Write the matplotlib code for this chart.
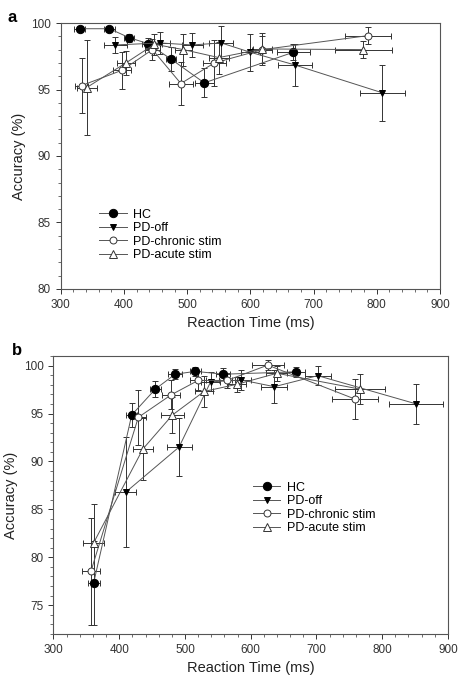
import matplotlib
matplotlib.use("Agg")
import matplotlib.pyplot as plt
from matplotlib.ticker import MultipleLocator

plt.rcParams['font.family'] = ['Liberation Sans', 'DejaVu Sans']

groups = ["HC", "PD-off", "PD-chronic stim", "PD-acute stim"]

# panel a
a_x = [
    [330, 377, 408, 438, 474, 527, 668],
    [386, 457, 508, 554, 600, 670, 809],
    [333, 397, 445, 490, 543, 619, 786],
    [341, 403, 448, 494, 550, 619, 779],
]
a_y = [
    [99.57, 99.57, 98.9, 98.45, 97.3, 95.5, 97.8],
    [98.35, 98.5, 98.35, 98.5, 97.8, 96.85, 94.75],
    [95.3, 96.45, 98.0, 95.45, 97.0, 98.0, 99.05],
    [95.15, 97.0, 98.4, 98.0, 97.4, 98.05, 98.0],
]
a_xerr = [
    [9, 9, 8, 10, 8, 15, 26],
    [18, 15, 17, 19, 15, 27, 36],
    [10, 14, 12, 19, 18, 16, 36],
    [16, 14, 12, 13, 16, 15, 45],
]
a_yerr = [
    [0.2, 0.2, 0.3, 0.4, 0.9, 1.1, 0.6],
    [0.6, 0.8, 0.9, 1.3, 1.4, 1.6, 2.1],
    [2.07, 1.4, 0.8, 1.6, 1.7, 1.0, 0.65],
    [3.55, 0.9, 0.8, 1.2, 1.2, 1.2, 0.65],
]

# panel b
b_x = [
    [361, 419, 455, 485, 516, 558, 669],
    [410, 491, 539, 586, 636, 702, 852],
    [357, 429, 479, 520, 564, 626, 759],
    [361, 436, 481, 529, 579, 640, 766],
]
b_y = [
    [77.3, 94.85, 97.55, 99.1, 99.4, 99.1, 99.35],
    [86.8, 91.5, 98.3, 98.5, 97.8, 98.95, 96.0],
    [78.55, 94.6, 96.95, 98.45, 98.45, 100.05, 96.5],
    [81.5, 91.3, 94.85, 97.3, 98.05, 99.2, 97.55],
]
b_xerr = [
    [9, 8, 8, 11, 8, 11, 14],
    [16, 19, 14, 14, 20, 20, 41],
    [13, 12, 14, 12, 12, 24, 35],
    [16, 15, 18, 14, 14, 16, 38],
]
b_yerr = [
    [4.4, 1.25, 0.8, 0.5, 0.5, 0.6, 0.5],
    [5.75, 3.0, 1.0, 1.0, 1.7, 1.0, 2.05],
    [5.6, 2.9, 1.5, 1.0, 0.8, 0.5, 2.1],
    [4.05, 3.2, 1.85, 1.65, 0.8, 0.8, 1.6],
]

styles = [
    dict(marker='o', mfc='black', mec='black', ms=6),
    dict(marker='v', mfc='black', mec='black', ms=4),
    dict(marker='o', mfc='white', mec='#333333', ms=5),
    dict(marker='^', mfc='white', mec='#333333', ms=5.5),
]


def draw_panel(ax, xs, ys, xerrs, yerrs, ylim, yticks):
    for i in range(4):
        ax.errorbar(xs[i], ys[i], xerr=xerrs[i], yerr=yerrs[i], fmt='none',
                    ecolor='#333333', elinewidth=0.7, capsize=2.5, capthick=0.7,
                    zorder=2)
        ax.plot(xs[i], ys[i], color='#555555', lw=0.7, mew=0.7, zorder=3,
                label=groups[i], **styles[i])
    ax.set_xlim(300, 900)
    ax.set_ylim(*ylim)
    ax.set_xticks(range(300, 901, 100))
    ax.set_yticks(yticks)
    ax.xaxis.set_minor_locator(MultipleLocator(20))
    ax.yaxis.set_minor_locator(MultipleLocator(1))
    ax.tick_params(which='both', direction='out', labelsize=8.5, colors='#333333',
                   top=False, right=False)
    ax.tick_params(which='major', length=3.5, width=0.7)
    ax.tick_params(which='minor', length=2, width=0.5)
    for s in ax.spines.values():
        s.set_linewidth(0.8)
        s.set_color('#555555')
    ax.set_xlabel('Reaction Time (ms)', fontsize=10.5, color='#222222')
    ax.set_ylabel('Accuracy (%)', fontsize=10.5, color='#222222')


fig = plt.figure(figsize=(4.68, 6.89), dpi=100)
ax1 = fig.add_axes([0.130, 0.5806, 0.810, 0.386])
ax2 = fig.add_axes([0.1143, 0.0798, 0.8427, 0.4035])

draw_panel(ax1, a_x, a_y, a_xerr, a_yerr, (80, 100), range(80, 101, 5))
draw_panel(ax2, b_x, b_y, b_xerr, b_yerr, (72, 101), range(75, 101, 5))

leg1 = ax1.legend(loc='upper left', bbox_to_anchor=(0.085, 0.325), frameon=False,
                  fontsize=9, handlelength=2.2, labelspacing=0.12,
                  handletextpad=0.5, borderpad=0)
leg2 = ax2.legend(loc='upper left', bbox_to_anchor=(0.49, 0.57), frameon=False,
                  fontsize=9, handlelength=2.2, labelspacing=0.12,
                  handletextpad=0.5, borderpad=0)

fig.text(0.015, 0.975, 'a', fontsize=12, fontweight='bold', va='center')
fig.text(0.025, 0.492, 'b', fontsize=12, fontweight='bold', va='center')

fig.savefig('out.png', dpi=100)
